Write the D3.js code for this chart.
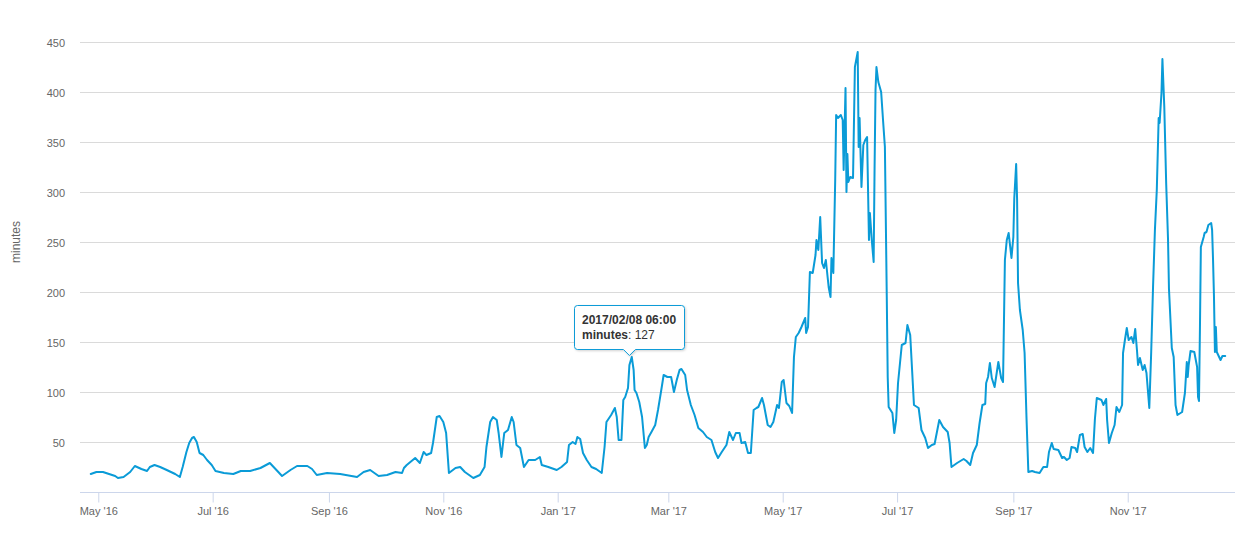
<!DOCTYPE html>
<html>
<head>
<meta charset="utf-8">
<script src="https://cdn.jsdelivr.net/npm/d3@7"></script>
<style>
  body { margin: 0; background: #fff; }
  svg { display: block; font-family: "Liberation Sans", Arial, Helvetica, sans-serif; }
</style>
</head>
<body>
<div id="chart"></div>
<script>
// Series data: sample time ("%Y-%m-%d %H") and value in minutes
const dates = [
  "2016-04-27 00", "2016-04-30 00", "2016-05-03 12", "2016-05-10 00", "2016-05-11 12", "2016-05-14 12", "2016-05-18 00", "2016-05-20 12", "2016-05-24 00", "2016-05-27 00", "2016-05-28 12", "2016-05-31 00",
  "2016-06-03 00", "2016-06-06 12", "2016-06-11 00", "2016-06-13 12", "2016-06-15 00", "2016-06-17 00", "2016-06-18 12", "2016-06-20 00", "2016-06-21 00", "2016-06-22 12", "2016-06-24 00", "2016-06-26 00", "2016-06-28 00", "2016-06-30 12",
  "2016-07-02 12", "2016-07-07 00", "2016-07-12 00", "2016-07-16 00", "2016-07-21 00", "2016-07-26 12", "2016-07-31 12",
  "2016-08-02 12", "2016-08-07 00", "2016-08-11 12", "2016-08-15 00", "2016-08-20 12", "2016-08-23 00", "2016-08-25 12", "2016-08-31 00",
  "2016-09-07 00", "2016-09-16 00", "2016-09-19 12", "2016-09-23 00", "2016-09-27 12",
  "2016-10-02 00", "2016-10-06 12", "2016-10-10 00", "2016-10-11 00", "2016-10-12 12", "2016-10-17 00", "2016-10-19 12", "2016-10-21 12", "2016-10-23 00", "2016-10-25 12", "2016-10-26 12", "2016-10-28 12", "2016-10-30 00",
  "2016-11-01 00", "2016-11-02 12", "2016-11-04 00", "2016-11-07 12", "2016-11-10 00", "2016-11-12 12", "2016-11-17 00", "2016-11-20 12", "2016-11-23 00", "2016-11-24 00", "2016-11-26 00", "2016-11-27 12", "2016-11-29 12", "2016-11-30 12",
  "2016-12-02 00", "2016-12-03 12", "2016-12-05 12", "2016-12-07 12", "2016-12-08 12", "2016-12-10 00", "2016-12-12 00", "2016-12-14 00", "2016-12-16 12", "2016-12-20 00", "2016-12-22 12", "2016-12-23 12", "2016-12-27 00", "2016-12-31 12",
  "2017-01-03 00", "2017-01-06 00", "2017-01-07 00", "2017-01-09 00", "2017-01-10 12", "2017-01-11 12", "2017-01-13 00", "2017-01-14 12", "2017-01-16 12", "2017-01-19 00", "2017-01-21 12", "2017-01-24 12", "2017-01-26 00", "2017-01-27 00", "2017-01-29 12", "2017-01-31 12",
  "2017-02-01 12", "2017-02-02 12", "2017-02-04 00", "2017-02-05 00", "2017-02-06 00", "2017-02-07 12", "2017-02-08 06", "2017-02-09 12", "2017-02-10 12", "2017-02-11 00", "2017-02-12 00", "2017-02-13 12", "2017-02-15 00", "2017-02-16 12", "2017-02-17 12", "2017-02-18 12", "2017-02-20 00", "2017-02-22 00", "2017-02-23 12", "2017-02-25 12", "2017-02-26 12", "2017-02-28 12",
  "2017-03-02 12", "2017-03-04 00", "2017-03-05 12", "2017-03-07 00", "2017-03-08 00", "2017-03-10 00", "2017-03-11 00", "2017-03-13 00", "2017-03-15 00", "2017-03-17 00", "2017-03-19 12", "2017-03-21 12", "2017-03-24 00", "2017-03-26 00", "2017-03-27 12", "2017-03-29 12",
  "2017-04-01 00", "2017-04-02 12", "2017-04-04 12", "2017-04-06 00", "2017-04-08 00", "2017-04-09 00", "2017-04-11 00", "2017-04-12 12", "2017-04-14 00", "2017-04-15 12", "2017-04-17 00", "2017-04-18 00", "2017-04-20 00", "2017-04-21 00", "2017-04-23 00", "2017-04-24 12", "2017-04-26 00", "2017-04-28 00", "2017-04-29 00", "2017-04-30 12",
  "2017-05-01 12", "2017-05-03 00", "2017-05-04 12", "2017-05-06 00", "2017-05-07 00", "2017-05-08 00", "2017-05-09 12", "2017-05-11 00", "2017-05-13 00", "2017-05-13 12", "2017-05-14 12", "2017-05-15 12", "2017-05-17 00", "2017-05-18 12", "2017-05-19 00", "2017-05-20 00", "2017-05-21 00", "2017-05-22 00", "2017-05-23 00", "2017-05-24 00", "2017-05-25 12", "2017-05-26 12", "2017-05-27 00", "2017-05-28 00", "2017-05-29 00", "2017-05-29 12", "2017-05-30 12",
  "2017-06-01 00", "2017-06-02 00", "2017-06-02 12", "2017-06-03 12", "2017-06-04 00", "2017-06-04 12", "2017-06-05 00", "2017-06-06 00", "2017-06-07 12", "2017-06-08 12", "2017-06-10 00", "2017-06-10 12", "2017-06-11 00", "2017-06-12 00", "2017-06-13 00", "2017-06-14 00", "2017-06-15 00", "2017-06-16 00", "2017-06-16 12", "2017-06-17 12", "2017-06-18 12", "2017-06-19 00", "2017-06-19 12", "2017-06-20 00", "2017-06-21 00", "2017-06-22 12", "2017-06-23 12", "2017-06-24 12", "2017-06-25 12", "2017-06-26 00", "2017-06-26 12", "2017-06-28 12", "2017-06-29 12", "2017-06-30 12",
  "2017-07-01 12", "2017-07-03 12", "2017-07-05 12", "2017-07-06 12", "2017-07-08 00", "2017-07-09 00", "2017-07-10 00", "2017-07-12 12", "2017-07-14 00", "2017-07-16 00", "2017-07-17 12", "2017-07-19 12", "2017-07-21 00", "2017-07-23 12", "2017-07-25 12", "2017-07-28 00", "2017-07-29 00", "2017-07-30 00",
  "2017-08-02 00", "2017-08-05 12", "2017-08-07 00", "2017-08-09 00", "2017-08-10 12", "2017-08-12 12", "2017-08-14 00", "2017-08-15 12", "2017-08-17 00", "2017-08-17 12", "2017-08-18 12", "2017-08-19 12", "2017-08-20 12", "2017-08-22 00", "2017-08-24 00", "2017-08-25 12", "2017-08-26 12", "2017-08-27 12", "2017-08-28 12", "2017-08-29 12", "2017-08-31 00",
  "2017-09-01 00", "2017-09-01 12", "2017-09-02 12", "2017-09-03 00", "2017-09-03 12", "2017-09-04 12", "2017-09-06 00", "2017-09-07 00", "2017-09-08 00", "2017-09-09 00", "2017-09-11 00", "2017-09-12 12", "2017-09-15 00", "2017-09-17 00", "2017-09-19 00", "2017-09-20 00", "2017-09-21 12", "2017-09-22 12", "2017-09-25 00", "2017-09-27 00", "2017-09-28 00", "2017-09-29 12",
  "2017-10-01 00", "2017-10-02 00", "2017-10-04 00", "2017-10-05 00", "2017-10-06 12", "2017-10-08 00", "2017-10-09 00", "2017-10-10 12", "2017-10-12 00", "2017-10-13 12", "2017-10-14 12", "2017-10-15 12", "2017-10-18 00", "2017-10-19 00", "2017-10-20 12", "2017-10-21 00", "2017-10-22 00", "2017-10-23 12", "2017-10-25 00", "2017-10-26 00", "2017-10-27 12", "2017-10-29 00", "2017-10-29 12", "2017-10-30 12", "2017-10-31 12",
  "2017-11-01 12", "2017-11-03 00", "2017-11-04 00", "2017-11-05 00", "2017-11-06 00", "2017-11-06 12", "2017-11-07 12", "2017-11-09 00", "2017-11-10 00", "2017-11-11 00", "2017-11-12 12", "2017-11-13 12", "2017-11-14 12", "2017-11-15 12", "2017-11-16 12", "2017-11-17 12", "2017-11-18 00", "2017-11-19 00", "2017-11-19 12", "2017-11-20 12", "2017-11-21 12", "2017-11-22 12", "2017-11-23 00", "2017-11-24 12", "2017-11-25 12", "2017-11-26 12", "2017-11-27 12", "2017-11-30 00",
  "2017-12-01 12", "2017-12-02 12", "2017-12-03 00", "2017-12-03 12", "2017-12-04 12", "2017-12-06 12", "2017-12-08 00", "2017-12-08 12", "2017-12-09 00", "2017-12-09 12", "2017-12-10 00", "2017-12-11 12", "2017-12-12 00", "2017-12-13 00", "2017-12-14 00", "2017-12-15 12", "2017-12-16 00", "2017-12-16 12", "2017-12-17 00", "2017-12-17 12", "2017-12-18 00", "2017-12-18 12", "2017-12-20 12", "2017-12-21 12", "2017-12-23 00"
];

const minutes = [
  18, 20, 20, 16, 14, 15, 20, 26, 23, 21, 25, 27,
  25, 22, 18, 15, 25, 40, 49, 54, 55, 50, 39, 37, 32, 27,
  21, 19, 18, 21, 21, 24, 29,
  25, 16, 22, 26, 26, 23, 17, 19,
  18, 15, 20, 22, 16,
  17, 20, 19, 24, 27, 34, 29, 40, 37, 39, 49, 75, 76,
  70, 59, 19, 24, 25, 20, 14, 17, 25, 45, 70, 75, 72, 59,
  35, 59, 62, 75, 70, 47, 44, 25, 32, 32, 35, 27, 25, 22,
  25, 30, 47, 50, 48, 55, 53, 39, 32, 25, 23, 19, 45, 70, 77, 84,
  75, 52, 52, 92, 95, 104, 127, 135, 122, 102, 99, 90, 75, 44, 47, 55, 60, 67, 82, 105, 117, 115,
  115, 100, 112, 122, 123, 117, 102, 87, 77, 64, 60, 55, 52, 40, 34, 40,
  47, 60, 52, 59, 59, 49, 50, 39, 39, 82, 84, 85, 94, 87, 67, 65, 70, 87, 84, 110,
  112, 89, 86, 79, 135, 155, 159, 165, 174, 159, 165, 220, 219, 237, 252, 242, 275, 229, 224, 232, 205, 195, 234, 219, 312, 377, 374,
  377, 372, 322, 404, 300, 338, 310, 315, 314, 425, 440, 345, 374, 305, 347, 352, 355, 252, 279, 252, 230, 325, 402, 425, 410, 400, 372, 345, 195, 115, 85, 79, 59, 72,
  109, 147, 149, 167, 157, 122, 87, 84, 62, 54, 44, 47, 48, 72, 65, 60, 49, 25,
  29, 33, 31, 27, 39, 47, 69, 87, 88, 109, 115, 129, 114, 105, 130, 114, 110, 232, 252, 259, 234,
  255, 294, 328, 292, 209, 182, 162, 139, 75, 20, 21, 20, 19, 25, 25, 40, 49, 43, 42, 34, 35, 32,
  34, 45, 44, 40, 57, 58, 45, 40, 44, 39, 73, 94, 92, 87, 93, 72, 49, 59, 67, 85, 80, 87, 139, 152, 164,
  152, 155, 149, 163, 140, 127, 134, 122, 127, 119, 84, 139, 205, 262, 302, 374, 369, 399, 433, 385, 309, 252, 203, 144, 135, 87, 77, 80,
  99, 130, 115, 127, 141, 140, 125, 95, 91, 162, 245, 255, 259, 260, 267, 269, 262, 232, 195, 140, 165, 140, 132, 136, 136
];

const yTicks = [50, 100, 150, 200, 250, 300, 350, 400, 450];
const seriesName = "minutes";

// Hovered point shown in the tooltip
const tipDate = "2017-02-08 06";
const tipValue = 127;

const chartWidth = 1245, chartHeight = 535;
const plot = {left: 80, right: 1235, top: 42, bottom: 492};
const lineColor = "#0a9bd7";

const parseTime = d3.timeParse("%Y-%m-%d %H");
const data = dates.map((d, i) => ({date: parseTime(d), value: minutes[i]}));
if (dates.length !== minutes.length) console.warn("length mismatch", dates.length, minutes.length);

const svg = d3.select("#chart")
    .append("svg")
    .attr("width", chartWidth)
    .attr("height", chartHeight);

const x = d3.scaleTime()
    .domain([parseTime("2016-04-21 06"), parseTime("2017-12-28 05")])
    .range([plot.left, plot.right]);

const y = d3.scaleLinear()
    .domain([0, 450])
    .range([plot.bottom, plot.top]);

// Horizontal grid lines
svg.append("g")
    .selectAll("line")
    .data(yTicks)
    .join("line")
    .attr("x1", plot.left)
    .attr("x2", plot.right)
    .attr("y1", d => Math.round(y(d)) + 0.5)
    .attr("y2", d => Math.round(y(d)) + 0.5)
    .attr("stroke", "#dadada")
    .attr("stroke-width", 1);

// Y axis labels
svg.append("g")
    .selectAll("text")
    .data(yTicks)
    .join("text")
    .attr("x", 65)
    .attr("y", d => y(d) + 4.5)
    .attr("text-anchor", "end")
    .attr("font-size", 11)
    .attr("fill", "#666666")
    .text(d => d);

// Y axis title
svg.append("text")
    .attr("transform", "translate(20,242) rotate(-90)")
    .attr("text-anchor", "middle")
    .attr("font-size", 12)
    .attr("fill", "#666666")
    .text(seriesName);

// X axis
const xAxis = d3.axisBottom(x)
    .ticks(d3.timeMonth.every(2))
    .tickFormat(d3.timeFormat("%b '%y"))
    .tickSize(10)
    .tickPadding(5);

const gx = svg.append("g")
    .attr("transform", `translate(0,${plot.bottom + 0.5})`)
    .call(xAxis);

gx.select(".domain")
    .attr("d", `M${plot.left},0H${plot.right}`)
    .attr("stroke", "#ccd6eb");
gx.selectAll(".tick line").attr("stroke", "#ccd6eb");
gx.selectAll(".tick text")
    .attr("font-size", 11)
    .attr("font-family", null)
    .attr("fill", "#666666");

// Series line
svg.append("defs").append("clipPath")
    .attr("id", "plot-clip")
    .append("rect")
    .attr("x", plot.left)
    .attr("y", 0)
    .attr("width", plot.right - plot.left)
    .attr("height", plot.bottom);

const line = d3.line()
    .x(d => x(d.date))
    .y(d => y(d.value));

svg.append("path")
    .datum(data)
    .attr("clip-path", "url(#plot-clip)")
    .attr("fill", "none")
    .attr("stroke", lineColor)
    .attr("stroke-width", 2)
    .attr("stroke-linejoin", "round")
    .attr("stroke-linecap", "round")
    .attr("d", line);

// Tooltip (callout pointing at the hovered point)
const shadow = svg.select("defs").append("filter")
    .attr("id", "tip-shadow")
    .attr("x", "-10%").attr("y", "-10%")
    .attr("width", "130%").attr("height", "140%");
shadow.append("feDropShadow")
    .attr("dx", 1).attr("dy", 1)
    .attr("stdDeviation", 1.2)
    .attr("flood-color", "#000")
    .attr("flood-opacity", 0.18);

const px = x(parseTime(tipDate)), py = y(tipValue);
const tip = svg.append("g");

const tipShape = tip.append("path")
    .attr("fill", "rgba(255,255,255,0.95)")
    .attr("stroke", lineColor)
    .attr("stroke-width", 1)
    .attr("filter", "url(#tip-shadow)");

const tipText = tip.append("text")
    .attr("font-size", 12)
    .attr("fill", "#333333");

tipText.append("tspan")
    .attr("x", 0)
    .attr("y", 0)
    .attr("font-weight", "bold")
    .text(d3.timeFormat("%Y/%m/%d %H:%M")(parseTime(tipDate)));
const line2 = tipText.append("tspan")
    .attr("x", 0)
    .attr("y", 15);
line2.append("tspan").attr("font-weight", "bold").text(seriesName);
line2.append("tspan").text(": " + tipValue);

const tb = tipText.node().getBBox();
const boxW = Math.round(tb.width + 16), boxH = 44;
const boxX = Math.round(px - boxW / 2) + 0.5;
const boxBottom = Math.round(py - 16) + 0.5;
const boxY = boxBottom - boxH;
const r = 3;

tipText.attr("transform", `translate(${boxX + 7.5},${boxY + 18.5})`);

tipShape.attr("d", [
    `M${boxX + r},${boxY}`,
    `H${boxX + boxW - r}`,
    `Q${boxX + boxW},${boxY} ${boxX + boxW},${boxY + r}`,
    `V${boxBottom - r}`,
    `Q${boxX + boxW},${boxBottom} ${boxX + boxW - r},${boxBottom}`,
    `H${px + 6}`,
    `L${px},${boxBottom + 6}`,
    `L${px - 6},${boxBottom}`,
    `H${boxX + r}`,
    `Q${boxX},${boxBottom} ${boxX},${boxBottom - r}`,
    `V${boxY + r}`,
    `Q${boxX},${boxY} ${boxX + r},${boxY}`,
    "Z"
].join(""));
</script>
</body>
</html>
